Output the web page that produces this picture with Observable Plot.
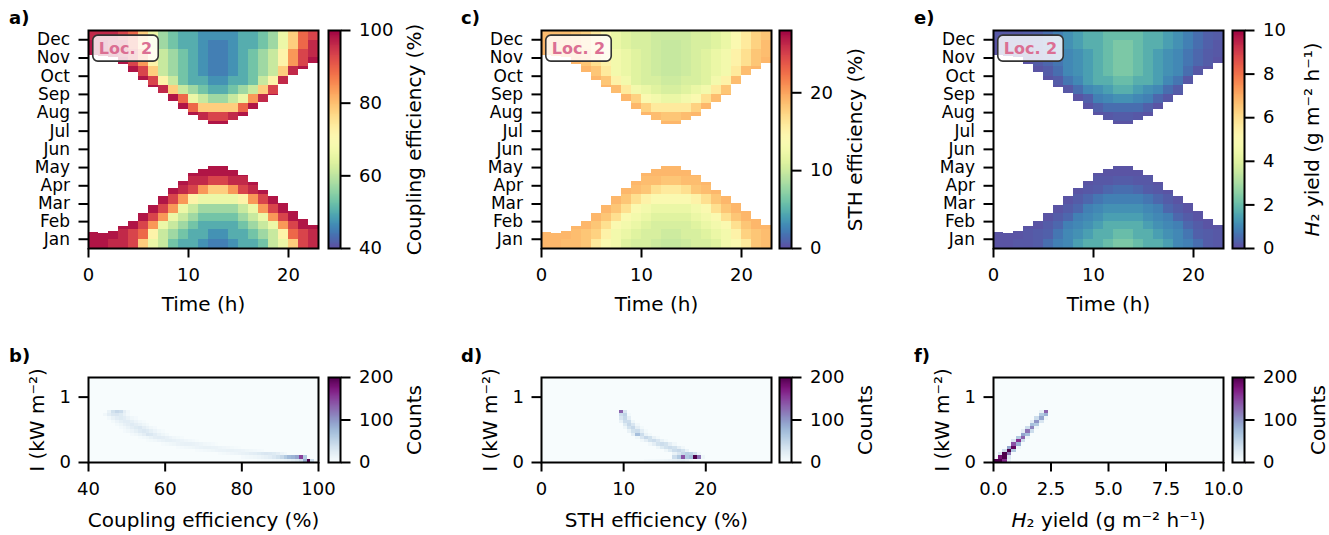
<!DOCTYPE html>
<html>
<head>
<meta charset="utf-8">
<script src="https://cdn.jsdelivr.net/npm/d3@7"></script>
<script src="https://cdn.jsdelivr.net/npm/@observablehq/plot@0.6"></script>
<style>
html,body{margin:0;padding:0;background:#fff;}
#fig{position:relative;width:1329px;height:535px;overflow:hidden;font-family:"DejaVu Sans",sans-serif;}
#fig .cell{position:absolute;}
#fig .tag{position:absolute;font-weight:bold;font-size:18px;line-height:18px;color:#000;}
</style>
</head>
<body>
<div id="fig"></div>
<script>
// ---------------- data ----------------
const monthNames = ["Jan","Feb","Mar","Apr","May","Jun","Jul","Aug","Sep","Oct","Nov","Dec"];
const monthMidDays = [15.5,45,74.5,105,135.5,166,196.5,227.5,258,288.5,319,349.5];
const hourStarts = [0,1,2,3,4,5,6,7,8,9,10,11,12,13,14,15,16,17,18,19,20,21,22];
const timeTicks = [0,10,20];
// day-of-year row edges (half months)
const dayEdges = [0,15,31,45,59,74,90,105,120,135,151,166,181,196,212,227,243,258,273,288,304,319,334,349,365];
// last sunlit day of the first half-year lobe, per hour
const sunLowEnd = [27,25,28,37,46,59,72,87,100,112,125,132,137,137,130,123,111,97,87,75,62,49,38];
// first sunlit day of the second half-year lobe, per hour
const sunHighStart = [323,322,319,308,295,282,270,259,246,233,222,214,207,207,214,221,232,244,257,274,289,299,310];
// level codes (hex digit) per half-month row (Jan first) and hour; "." = no sun
const levelGrid = [
  "00112578abbcddcbba87521",
  "000123689abbccbba986321",
  "...0024789abbbba9874200",
  "....0024789aaaa9874200.",
  "......024789999874200..",
  ".......0246777764200...",
  "........0124554210.....",
  ".........01122110......",
  "..........000000.......",
  "............00.........",
  ".......................",
  ".......................",
  ".......................",
  "............00.........",
  "..........012210.......",
  ".........03555530......",
  "........03789987410....",
  "......01589abba9852....",
  ".....0268abbccbba861...",
  "....02589abcddcba98510.",
  "...024689abcddcba986420",
  "000124689abcddcba986421",
  "00113579abbcddcbba97531",
  "11123579abbccccbba97532"
];
const couplingByLevel = [98,96,93,89,84,78,72,66,61,57,53,50,47,45];
const sthByLevel = [19.0,18.7,18.2,17.5,16.6,15.8,15.0,13.8,12.8,12.0,11.2,10.6,10.1,9.7];
const h2ByLevel = [0.08,0.15,0.22,0.30,0.42,0.55,0.68,0.85,1.00,1.15,1.40,1.70,2.00,2.30];

// 2D histograms: [I bin start, x bin start, counts of consecutive x bins]
const histYBin = 0.05;
const histCouplingBin = 1.0;
const histSthBin = 0.5;
const histH2Bin = 0.2;
const histCoupling = [
  [0.75,45,[15,35,45,40,20,8]],
  [0.70,44,[8,20,28,30,25,15,6]],
  [0.65,45,[6,15,22,25,22,15,8,4]],
  [0.60,46,[5,12,18,22,22,18,12,6,3]],
  [0.55,47,[5,10,16,20,24,20,15,10,5]],
  [0.50,48,[4,8,14,20,25,28,20,14,8,4]],
  [0.45,49,[4,8,12,18,24,28,24,18,12,6,3]],
  [0.40,51,[4,8,14,20,30,28,22,15,10,5]],
  [0.35,53,[3,6,10,15,20,22,20,16,12,8,5,3]],
  [0.30,55,[3,5,8,12,15,18,18,16,14,12,9,6,4,2]],
  [0.25,59,[3,5,8,10,13,15,16,16,15,13,11,8,6,4,2]],
  [0.20,63,[3,4,6,8,10,12,14,15,15,14,13,11,9,7,5,3,2]],
  [0.15,68,[3,4,6,8,10,12,13,14,15,15,14,13,12,10,8,6,4,3]],
  [0.10,74,[3,5,7,9,11,13,15,17,20,22,25,28,30,28,25,20,12,6]],
  [0.05,80,[4,6,8,10,12,15,18,22,28,35,45,60,75,80,90,150,60]],
  [0.00,84,[2,3,4,5,6,8,10,12,15,20,25,35,80,250,40,5]]
];
const histSth = [
  [0.75,9.5,[130,30]],
  [0.70,9.5,[40,50,5]],
  [0.65,9.5,[30,45,20]],
  [0.60,9.5,[15,40,40,10]],
  [0.55,10.0,[25,45,30,8]],
  [0.50,10.0,[10,35,45,20,5]],
  [0.45,10.5,[15,35,40,20,5]],
  [0.40,11.0,[20,70,40,15,5]],
  [0.35,11.5,[10,30,45,35,15,5]],
  [0.30,12.0,[8,20,35,40,30,15,5]],
  [0.25,13.0,[8,20,35,40,35,20,8]],
  [0.20,14.0,[10,25,35,40,35,20,8]],
  [0.15,15.0,[10,25,40,45,35,15]],
  [0.10,16.0,[15,30,45,55,50,35,10]],
  [0.05,16.0,[40,60,140,60,70,250,120,10]],
  [0.00,12.5,[3,4,5,6,8,10,12,15,18,20,15,5]]
];
const histH2 = [
  [0.75,2.0,[15,130]],
  [0.70,2.0,[60,80]],
  [0.65,1.8,[40,90,10]],
  [0.60,1.6,[20,100,30]],
  [0.55,1.6,[70,60]],
  [0.50,1.4,[40,110,10]],
  [0.45,1.2,[20,120,40]],
  [0.40,1.2,[90,70]],
  [0.35,1.0,[60,130,10]],
  [0.30,0.8,[30,160,40]],
  [0.25,0.8,[140,80]],
  [0.20,0.6,[90,190,10]],
  [0.15,0.4,[40,220,60]],
  [0.10,0.2,[30,200,120]],
  [0.05,0.2,[180,220,30]],
  [0.00,0.0,[250,240,160,20]]
];
const histYTicks = [0, 1];

// ---------------- helpers ----------------
const FONT = '"DejaVu Sans", sans-serif';
const STYLE = {fontFamily: FONT, fontSize: "18px", color: "#000", background: "transparent", overflow: "visible"};
const AX = {tickSize: 9.5, strokeWidth: 2, fontSize: 18, label: null};
const fig = document.getElementById("fig");

function place(el, left, top) {
  const d = document.createElement("div");
  d.className = "cell";
  d.style.left = left + "px";
  d.style.top = top + "px";
  d.appendChild(el);
  fig.appendChild(d);
  return el;
}
function tag(txt, left, top) {
  const s = document.createElement("div");
  s.className = "tag";
  s.style.left = left + "px";
  s.style.top = top + "px";
  s.textContent = txt;
  fig.appendChild(s);
}
function italicH(svg) {
  svg.querySelectorAll("text").forEach(t => {
    if (t.textContent.startsWith("H₂")) {
      const rest = t.textContent.slice(1);
      t.textContent = "";
      const ts = document.createElementNS("http://www.w3.org/2000/svg", "tspan");
      ts.setAttribute("font-style", "italic");
      ts.textContent = "H";
      t.appendChild(ts);
      t.appendChild(document.createTextNode(rest));
    }
  });
}
function boxLoc(svg) {
  const t = [...svg.querySelectorAll("text")].find(e => e.textContent === "Loc. 2");
  if (!t) return;
  const b = t.getBBox();
  const r = document.createElementNS("http://www.w3.org/2000/svg", "rect");
  r.setAttribute("x", b.x - 6);
  r.setAttribute("y", b.y - 3.5);
  r.setAttribute("width", b.width + 12);
  r.setAttribute("height", b.height + 7);
  r.setAttribute("rx", 5);
  r.setAttribute("fill", "#ffffff");
  r.setAttribute("fill-opacity", "0.82");
  r.setAttribute("stroke", "#333");
  r.setAttribute("stroke-width", "1.6");
  if (t.getAttribute("transform")) r.setAttribute("transform", t.getAttribute("transform"));
  t.parentNode.insertBefore(r, t);
}

function makeCells(valueByLevel) {
  const cells = [];
  levelGrid.forEach((row, r) => {
    [...row].forEach((ch, c) => {
      if (ch === ".") return;
      const lower = r < 12;
      const y1 = lower ? dayEdges[r] : Math.max(dayEdges[r], sunHighStart[c]);
      const y2 = lower ? Math.min(dayEdges[r + 1], sunLowEnd[c]) : dayEdges[r + 1];
      cells.push({x1: hourStarts[c], x2: hourStarts[c] + 1, y1, y2, v: valueByLevel[parseInt(ch, 16)]});
    });
  });
  return cells;
}

function topPanel(valueByLevel, domain) {
  return Plot.plot({
    width: 330, height: 320,
    marginLeft: 88, marginRight: 12, marginTop: 30, marginBottom: 72,
    style: STYLE,
    x: {domain: [0, 23]},
    y: {domain: [0, 365]},
    color: {type: "linear", scheme: "spectral", reverse: true, domain},
    marks: [
      Plot.rect(makeCells(valueByLevel), {x1: "x1", x2: "x2", y1: "y1", y2: "y2", fill: "v", shapeRendering: "crispEdges"}),
      Plot.frame({stroke: "#000", strokeWidth: 2}),
      Plot.axisX({ticks: timeTicks, tickPadding: 10, ...AX}),
      Plot.axisY({ticks: monthMidDays, tickFormat: d => monthNames[monthMidDays.indexOf(d)], tickPadding: 9, ...AX, fontSize: 17}),
      Plot.text(["Time (h)"], {frameAnchor: "bottom", dy: 56, textAnchor: "middle", lineAnchor: "middle", fontSize: 20}),
      Plot.text(["Loc. 2"], {frameAnchor: "top-left", dx: 37, dy: 18, textAnchor: "middle", lineAnchor: "middle", fill: "#db6f93", fontWeight: "bold", fontSize: 16})
    ]
  });
}

function colorbar({domain, scheme, reverse, ticks, tickFormat, label, labelDx, width, height, marginTop, marginBottom, clamp}) {
  const n = 240;
  const dv = (domain[1] - domain[0]) / n;
  const steps = d3.range(n).map(i => domain[0] + dv * i);
  return Plot.plot({
    width, height,
    marginLeft: 8, marginRight: width - 20, marginTop, marginBottom,
    style: STYLE,
    x: {domain: [0, 1], axis: null},
    y: {domain},
    color: {type: "linear", scheme, reverse, domain, clamp: !!clamp},
    marks: [
      Plot.rect(steps, {x1: 0, x2: 1, y1: d => d, y2: d => d + dv * 1.5, fill: d => d + dv / 2, shapeRendering: "crispEdges"}),
      Plot.frame({stroke: "#000", strokeWidth: 2}),
      Plot.axisY({anchor: "right", ticks, tickFormat, tickPadding: 9, ...AX}),
      Plot.text([label], {frameAnchor: "right", dx: labelDx, rotate: -90, textAnchor: "middle", lineAnchor: "middle", fontSize: 20})
    ]
  });
}

function histPanel(rows, binW, xDomain, xTicks, xFmt, xLabel) {
  const cells = [];
  rows.forEach(([y0, x0, counts]) => counts.forEach((n, k) => {
    cells.push({x1: x0 + k * binW, x2: x0 + (k + 1) * binW, y1: y0, y2: y0 + histYBin, n});
  }));
  return Plot.plot({
    width: 330, height: 200,
    marginLeft: 88, marginRight: 12, marginTop: 42, marginBottom: 73,
    style: STYLE,
    x: {domain: xDomain},
    y: {domain: [0, 1.3]},
    color: {type: "linear", scheme: "bupu", domain: [0, 200], clamp: true},
    marks: [
      Plot.rect([{n: 0}], {x1: xDomain[0], x2: xDomain[1], y1: 0, y2: 1.3, fill: "n"}),
      Plot.rect(cells, {x1: "x1", x2: "x2", y1: "y1", y2: "y2", fill: "n", shapeRendering: "crispEdges"}),
      Plot.frame({stroke: "#000", strokeWidth: 2}),
      Plot.axisX({ticks: xTicks, tickFormat: xFmt, tickPadding: 10, ...AX}),
      Plot.axisY({ticks: histYTicks, tickFormat: d => String(d), tickPadding: 8, ...AX}),
      Plot.text([xLabel], {frameAnchor: "bottom", dy: 58, textAnchor: "middle", lineAnchor: "middle", fontSize: 20}),
      Plot.text(["I (kW m⁻²)"], {frameAnchor: "left", dx: -51, rotate: -90, textAnchor: "middle", lineAnchor: "middle", fontSize: 20})
    ]
  });
}

// ---------------- top row ----------------
const tops = [
  {left: 0, cb: 320, cbw: 120, vals: couplingByLevel, domain: [40, 100], ticks: [40, 60, 80, 100], label: "Coupling efficiency (%)", dx: 74, tag: "a)", tagLeft: 9},
  {left: 453, cb: 771, cbw: 120, vals: sthByLevel, domain: [0, 28], ticks: [0, 10, 20], label: "STH efficiency (%)", dx: 64, tag: "c)", tagLeft: 461},
  {left: 905, cb: 1224, cbw: 105, vals: h2ByLevel, domain: [0, 10], ticks: [0, 2, 4, 6, 8, 10], label: "H₂ yield (g m⁻² h⁻¹)", dx: 68, tag: "e)", tagLeft: 914}
];
tops.forEach(p => {
  const svg = place(topPanel(p.vals, p.domain), p.left, 0);
  boxLoc(svg);
  const cb = place(colorbar({domain: p.domain, scheme: "spectral", reverse: true, ticks: p.ticks, tickFormat: d => String(d),
    label: p.label, labelDx: p.dx, width: p.cbw, height: 320, marginTop: 30, marginBottom: 72}), p.cb, 0);
  italicH(cb);
  tag(p.tag, p.tagLeft, 9);
});

// ---------------- bottom row ----------------
const bottoms = [
  {left: 0, cb: 320, cbw: 120, rows: histCoupling, bin: histCouplingBin, dom: [40, 100], ticks: [40, 60, 80, 100], fmt: d => String(d), label: "Coupling efficiency (%)", tag: "b)", tagLeft: 9},
  {left: 453, cb: 771, cbw: 120, rows: histSth, bin: histSthBin, dom: [0, 28], ticks: [0, 10, 20], fmt: d => String(d), label: "STH efficiency (%)", tag: "d)", tagLeft: 461},
  {left: 905, cb: 1224, cbw: 105, rows: histH2, bin: histH2Bin, dom: [0, 10], ticks: [0, 2.5, 5, 7.5, 10], fmt: d => d.toFixed(1), label: "H₂ yield (g m⁻² h⁻¹)", tag: "f)", tagLeft: 914}
];
bottoms.forEach(p => {
  const svg = place(histPanel(p.rows, p.bin, p.dom, p.ticks, p.fmt, p.label), p.left, 335);
  italicH(svg);
  place(colorbar({domain: [0, 200], scheme: "bupu", reverse: false, ticks: [0, 100, 200], tickFormat: d => String(d),
    label: "Counts", labelDx: 74, width: p.cbw, height: 200, marginTop: 42, marginBottom: 73, clamp: true}), p.cb, 335);
  tag(p.tag, p.tagLeft, 347);
});
</script>
</body>
</html>
